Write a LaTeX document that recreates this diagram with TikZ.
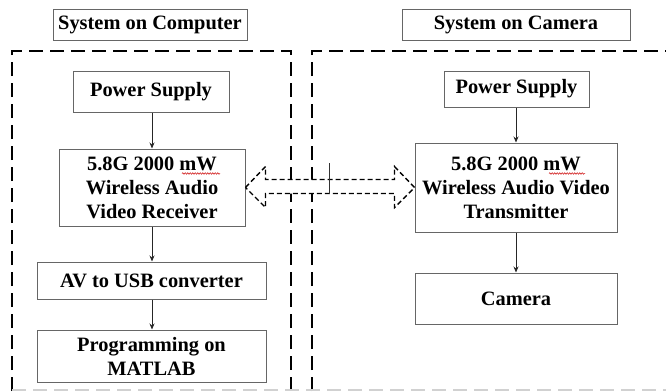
\documentclass[tikz,border=0pt]{standalone}
\usepackage{fontspec}
\setmainfont{Liberation Serif}
\usetikzlibrary{calc,arrows.meta,decorations.pathmorphing}
\begin{document}
\begin{tikzpicture}[x=1pt,y=-1pt,
  blk/.style={draw=black!60,line width=1pt,rectangle,inner sep=0pt,align=center,
    font=\fontsize{20.4}{24}\selectfont\bfseries},
  sysbox/.style={dashed,line width=2pt,dash pattern=on 14pt off 7pt},
  flow/.style={draw=black!85,line width=0.8pt,-{Stealth[length=6pt,width=5pt]}},
  dblarrow/.style={draw=black,fill=white,line width=1.4pt,dash pattern=on 5pt off 3pt,line join=miter},
  squig/.style={draw=red!80!black,line width=0.5pt,decorate,decoration={snake,amplitude=0.8pt,segment length=2.5pt}}
]
\useasboundingbox (0,0) rectangle (666,391);
\fill[white] (0,0) rectangle (666,391);

% system (dashed) boxes
\draw[sysbox] (12,391) -- (12,51) -- (291,51) -- (291,391);
\draw[sysbox] (312,391) -- (312,51) -- (680,51);
\draw[sysbox,draw=black!18] (12,390) -- (680,390);

% titles
\node[blk,minimum width=194pt,minimum height=31pt] (tc) at (150,24.5) {System on Computer};
\node[blk,minimum width=228pt,minimum height=31pt] (tcam) at (516,24.5) {System on Camera};

% computer side
\node[blk,minimum width=156pt,minimum height=41pt] (psl) at (151,91.5) {Power Supply};
\node[blk,minimum width=186pt,minimum height=77pt] (rx) at (152,187.5) {5.8G 2000 mW\\Wireless Audio\\Video Receiver};
\node[blk,minimum width=229pt,minimum height=37pt] (av) at (151.5,280.5) {AV to USB converter};
\node[blk,minimum width=229pt,minimum height=52pt] (ml) at (151.5,356) {Programming on\\MATLAB};

% camera side
\node[blk,minimum width=145pt,minimum height=36pt] (psr) at (516.5,89) {Power Supply};
\node[blk,minimum width=202pt,minimum height=89pt] (tx) at (516,187.5) {5.8G 2000 mW\\Wireless Audio Video\\Transmitter};
\node[blk,minimum width=202pt,minimum height=51pt] (cam) at (516,298.5) {Camera};

% flows
\draw[flow] (psl.south -| rx.north) -- (rx.north);
\draw[flow] (rx.south) -- (rx.south |- av.north);
\draw[flow] (av.south -| rx.south) -- (ml.north -| rx.south);
\draw[flow] (psr.south -| tx.north) -- (tx.north);
\draw[flow] (tx.south) -- (cam.north);

% wireless double arrow
\draw[dblarrow] (rx.east) -- ++(20,-21) -- ++(0,13) -- ($(tx.west)+(-20,-8)$) -- ++(0,-13)
  -- (tx.west) -- ++(-20,20) -- ++(0,-14) -- ($(rx.east)+(20,6)$) -- ++(0,14) -- cycle;
\coordinate (m1) at (329,163);
\coordinate (m2) at (329,194);
\draw[black!80,line width=0.6pt] (m1) -- (m2);

% spell-check underlines
\draw[squig] (182,173.5) -- (220,173.5);
\draw[squig] (549,173.5) -- (585,173.5);
\end{tikzpicture}
\end{document}
